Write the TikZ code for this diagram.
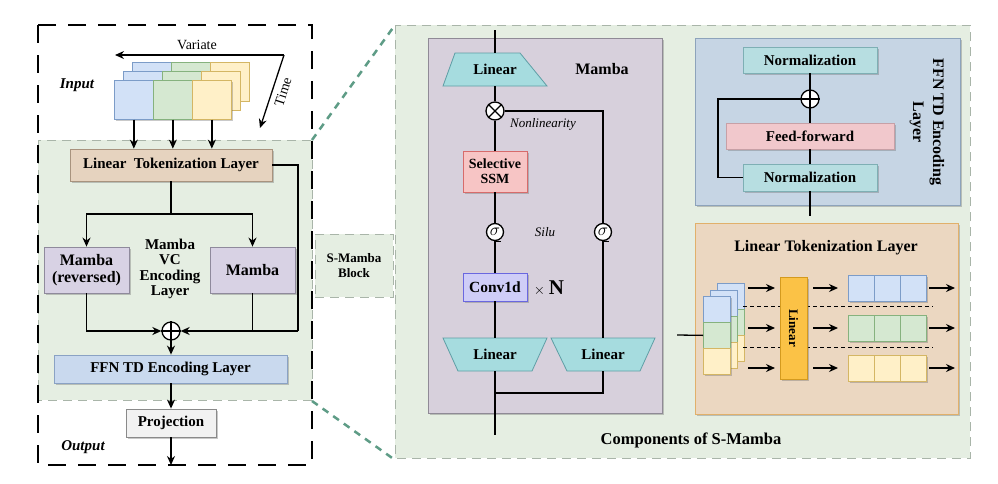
\documentclass[tikz,border=0pt]{standalone}
\usepackage{fontspec}
\setmainfont{Liberation Serif}
\usetikzlibrary{shadows,arrows.meta,calc}
\definecolor{lgreen}{HTML}{E5EEE2}
\definecolor{regdraw}{HTML}{A9B5A9}
\definecolor{ltlfill}{HTML}{E6D3BF}
\definecolor{ltldraw}{HTML}{A8937E}
\definecolor{mfill}{HTML}{D8D2E4}
\definecolor{mdraw}{HTML}{8F8A9C}
\definecolor{ffnfill}{HTML}{C9D9EE}
\definecolor{ffndraw}{HTML}{8AA2C4}
\definecolor{projfill}{HTML}{F2F2F2}
\definecolor{projdraw}{HTML}{8A8A8A}
\definecolor{mpfill}{HTML}{D7D0DC}
\definecolor{mpdraw}{HTML}{8F8A96}
\definecolor{linfill}{HTML}{A6DCDF}
\definecolor{lindraw}{HTML}{5F9EA5}
\definecolor{ssmfill}{HTML}{F7C5C5}
\definecolor{ssmdraw}{HTML}{D76B6B}
\definecolor{convfill}{HTML}{CFCDF7}
\definecolor{convdraw}{HTML}{6A67E0}
\definecolor{fpfill}{HTML}{C6D5E4}
\definecolor{fpdraw}{HTML}{8DA3BB}
\definecolor{normfill}{HTML}{B7DEE1}
\definecolor{normdraw}{HTML}{7EAFB4}
\definecolor{fffill}{HTML}{F1C8CC}
\definecolor{ffdraw}{HTML}{C7A0A6}
\definecolor{lpfill}{HTML}{EBD7C1}
\definecolor{lpdraw}{HTML}{E1B06B}
\definecolor{cb}{HTML}{D2E1F7}
\definecolor{cbd}{HTML}{7C9CC8}
\definecolor{cg}{HTML}{D5E8D1}
\definecolor{cgd}{HTML}{86B27E}
\definecolor{cy}{HTML}{FFF0C8}
\definecolor{cyd}{HTML}{D4B664}
\definecolor{orfill}{HTML}{FBC246}
\definecolor{ordraw}{HTML}{D49A1E}
\definecolor{teal}{HTML}{5E9C86}
\tikzset{
  shd/.style={drop shadow={shadow xshift=2pt,shadow yshift=-2pt,opacity=0.35,fill=black!60}},
  bx/.style={draw, line width=0.8pt, shd, inner sep=0pt, align=center,
    font=\fontsize{15}{17}\selectfont\bfseries},
  ln/.style={line width=1.3pt},
  arr/.style={line width=1.3pt, -{Stealth[length=9pt,width=8pt]}},
  cell/.style={draw, line width=0.7pt, minimum width=39pt, minimum height=39pt, inner sep=0pt, anchor=north west},
  tok/.style={draw, line width=0.7pt, minimum width=26pt, minimum height=26pt, inner sep=0pt, shd},
  scell/.style={draw, line width=0.7pt, minimum width=27pt, minimum height=26pt, inner sep=0pt, anchor=north west},
  region/.style={fill=lgreen, draw=regdraw, line width=0.9pt, dash pattern=on 9pt off 6pt},
  lbl/.style={font=\fontsize{15}{17}\selectfont\bfseries, align=center, inner sep=0pt},
  circ/.style={circle, draw, fill=white, line width=1.3pt, minimum size=18pt, inner sep=0pt},
  sig/.style={circle, draw, fill=white, line width=1.3pt, minimum size=17pt, inner sep=0pt},
}
\begin{document}
\begin{tikzpicture}[x=1pt,y=-1pt]
\useasboundingbox (0,0) rectangle (998,483);
\fill[white] (0,0) rectangle (998,483);

% ---------- regions ----------
\path[region] (38,140) rectangle (312,400);
\path[region] (395,25) rectangle (970,458);
\node[region, minimum width=78pt, minimum height=63pt, inner sep=0pt, align=center,
  font=\fontsize{13}{15}\selectfont\bfseries] (smb) at (354,265.5) {S-Mamba\\Block};
\draw[black, line width=2.5pt, dash pattern=on 18pt off 12pt] (38,25) rectangle (312,465);
\coordinate (z1) at (312,140);
\coordinate (z2) at (395,25);
\coordinate (z3) at (312,401);
\coordinate (z4) at (395,460);
\draw[teal, line width=2.5pt, dash pattern=on 7pt off 6pt] (z1) -- (z2);
\draw[teal, line width=2.5pt, dash pattern=on 7pt off 6pt] (z3) -- (z4);

% ---------- input cubes ----------
\node[font=\fontsize{15}{17}\selectfont\bfseries\itshape] (inp) at (77,85) {Input};
\foreach \l in {2,1} {
  \node[cell, fill=cb, draw=cbd] (L\l a) at ({114+9*\l},{80-9*\l}) {};
  \node[cell, fill=cg, draw=cgd] (L\l b) at ({153+9*\l},{80-9*\l}) {};
  \node[cell, fill=cy, draw=cyd] (L\l c) at ({192+9*\l},{80-9*\l}) {};
}
\node[cell, fill=cb, draw=cbd, shd] (f0) at (114,80) {};
\node[cell, fill=cg, draw=cgd, shd] (f1) at (153,80) {};
\node[cell, fill=cy, draw=cyd, shd] (f2) at (192,80) {};
\coordinate (vt) at (284,55);
\coordinate (vl) at (115,55);
\coordinate (tb) at (260,128);
\draw[arr] (vt) -- (vl);
\draw[arr] (vt) -- (tb);
\node[font=\fontsize{14}{16}\selectfont] (var) at (197,45) {Variate};
\node[font=\fontsize{14}{16}\selectfont, rotate=72, inner sep=0pt] (tim) at (283,92) {Time};

% ---------- left pipeline ----------
\node[bx, fill=ltlfill, draw=ltldraw, minimum width=202pt, minimum height=32pt] (ltl) at (171,165) {Linear~~Tokenization Layer};
\foreach \c in {f0,f1,f2} \draw[arr] (\c.south) -- (\c.south |- ltl.north);
\node[bx, fill=mfill, draw=mdraw, minimum width=85pt, minimum height=46pt,
  font=\fontsize{16}{17}\selectfont\bfseries] (mrev) at (86.5,270) {Mamba\\(reversed)};
\node[bx, fill=mfill, draw=mdraw, minimum width=85pt, minimum height=46pt,
  font=\fontsize{16}{17}\selectfont\bfseries] (mam) at (252.5,270) {Mamba};
\node[lbl, font=\fontsize{15}{15.5}\selectfont\bfseries] (vcl) at (170,269) {Mamba\\VC\\Encoding\\Layer};
\coordinate (split) at (171,214);
\draw[ln] (ltl.south) -- (split);
\draw[arr] (split) -| (mrev.north);
\draw[arr] (split) -| (mam.north);
\node[circ] (pl) at (171,331) {};
\draw[line width=1.1pt] (pl.north) -- (pl.south) (pl.east) -- (pl.west);
\coordinate (rc) at (298,331);
\draw[ln] (ltl.east) -| (rc);
\draw[arr] (rc) -- (pl.east);
\draw[ln] (mam.south) -- (mam.south |- rc);
\draw[arr] (mrev.south) |- (pl.west);
\node[bx, fill=ffnfill, draw=ffndraw, minimum width=233pt, minimum height=28pt] (ffn) at (170.5,369) {FFN TD Encoding Layer};
\draw[arr] (pl.south) -- (pl.south |- ffn.north);
\node[bx, fill=projfill, draw=projdraw, minimum width=90pt, minimum height=28pt] (proj) at (171,423) {Projection};
\draw[arr] (ffn.south -| proj.north) -- (proj.north);
\coordinate (outb) at (171,465);
\draw[arr] (proj.south) -- (outb);
\node[font=\fontsize{15}{17}\selectfont\bfseries\itshape] (outl) at (83,447) {Output};

% ---------- Mamba panel ----------
\node[draw=mpdraw, fill=mpfill, line width=0.8pt, shd, minimum width=234pt, minimum height=375pt, inner sep=0pt] (mp) at (545,225.5) {};
\node[font=\fontsize{16}{18}\selectfont\bfseries] (mtl) at (602,69) {Mamba};
\filldraw[fill=linfill, draw=lindraw, line width=0.8pt] (455,53) -- (520,53) -- (547,86) -- (443,86) -- cycle;
\node[lbl, minimum width=104pt, minimum height=33pt] (tl) at (495,69.5) {Linear};
\coordinate (mtop) at (495,30);
\draw[ln] (mtop) -- (tl.north);
\node[circ] (ot) at (495,111) {};
\draw[line width=1.1pt] (ot.45) -- (ot.225) (ot.135) -- (ot.315);
\draw[ln] (tl.south) -- (ot.north);
\node[font=\fontsize{13}{15}\selectfont\itshape] (nonl) at (543,124) {Nonlinearity};
\node[bx, fill=ssmfill, draw=ssmdraw, minimum width=64pt, minimum height=41pt,
  font=\fontsize{14}{15}\selectfont\bfseries] (ssm) at (495,171.5) {Selective\\SSM};
\draw[ln] (ot.south) -- (ssm.north);
\node[sig] (s1) at (495,232) {\fontsize{16}{16}\selectfont$\sigma$};
\node[sig] (s2) at (603,232) {\fontsize{16}{16}\selectfont$\sigma$};
\draw[line width=1pt] (s1.south) -- ++(6,0);
\draw[line width=1pt] (s2.south) -- ++(6,0);
\node[font=\fontsize{13}{15}\selectfont\itshape] (silu) at (545,232) {Silu};
\draw[ln] (ssm.south) -- (s1.north);
\draw[ln] (ot.east) -| (s2.north);
\node[bx, fill=convfill, draw=convdraw, minimum width=64pt, minimum height=28pt,
  font=\fontsize{15.5}{17}\selectfont\bfseries] (conv) at (495,287) {Conv1d};
\node[font=\fontsize{15}{17}\selectfont] (xn) at (549,288) {$\times$ {\fontsize{21}{21}\selectfont\bfseries N}};
\draw[ln] (s1.south) -- (conv.north);
\filldraw[fill=linfill, draw=lindraw, line width=0.8pt] (443,338) -- (547,338) -- (532,371) -- (458,371) -- cycle;
\node[lbl, minimum width=104pt, minimum height=33pt] (bl1) at (495,354.5) {Linear};
\filldraw[fill=linfill, draw=lindraw, line width=0.8pt] (551,338) -- (655,338) -- (640,371) -- (567,371) -- cycle;
\node[lbl, minimum width=104pt, minimum height=33pt] (bl2) at (603,354.5) {Linear};
\draw[ln] (conv.south) -- (bl1.north);
\draw[ln] (s2.south) -- (bl2.north);
\coordinate (mbot) at (495,435);
\coordinate (mj) at (495,393);
\draw[ln] (bl1.south) -- (mbot);
\draw[ln] (bl2.south) |- (mj);
\node[font=\fontsize{16.5}{18}\selectfont\bfseries] (comp) at (691,440) {Components of S-Mamba};

% ---------- FFN TD panel ----------
\node[draw=fpdraw, fill=fpfill, line width=0.8pt, shd, minimum width=265pt, minimum height=167pt, inner sep=0pt] (fp) at (827.5,121.5) {};
\node[bx, fill=normfill, draw=normdraw, minimum width=134pt, minimum height=26pt] (nt) at (810,60) {Normalization};
\node[circ] (p2) at (810,99) {};
\draw[line width=1.1pt] (p2.north) -- (p2.south) (p2.east) -- (p2.west);
\node[bx, fill=fffill, draw=ffdraw, minimum width=168pt, minimum height=26pt] (ff) at (810,136) {Feed-forward};
\node[bx, fill=normfill, draw=normdraw, minimum width=134pt, minimum height=27pt] (nb) at (810,177.5) {Normalization};
\draw[ln] (nt.south) -- (p2.north);
\draw[ln] (p2.south) -- (ff.north);
\draw[ln] (ff.south) -- (nb.north);
\coordinate (fbot) at (810,216);
\draw[ln] (nb.south) -- (fbot);
\coordinate (byp) at (718,177.5);
\draw[ln] (nb.west) -- (byp) |- (p2.west);
\node[font=\fontsize{16}{20}\selectfont\bfseries, align=center, rotate=-90] (fttl) at (927,122) {FFN TD Encoding\\Layer};

% ---------- Linear Tokenization panel ----------
\node[draw=lpdraw, fill=lpfill, line width=1pt, shd, minimum width=263pt, minimum height=191pt, inner sep=0pt] (lp) at (826.5,318.5) {};
\node[font=\fontsize{16}{18}\selectfont\bfseries] (lpt) at (826,248) {Linear Tokenization Layer};
\foreach \l in {2,1} {
  \node[scell, fill=cb, draw=cbd] (S\l a) at ({703+7*\l},{296-6.5*\l}) {};
  \node[scell, fill=cg, draw=cgd] (S\l b) at ({703+7*\l},{322-6.5*\l}) {};
  \node[scell, fill=cy, draw=cyd] (S\l c) at ({703+7*\l},{348-6.5*\l}) {};
}
\node[scell, fill=cb, draw=cbd, shd] (sa) at (703,296) {};
\node[scell, fill=cg, draw=cgd, shd] (sb) at (703,322) {};
\node[scell, fill=cy, draw=cyd, shd] (sc) at (703,348) {};
\coordinate (lin) at (677,335);
\draw[ln] (lin) -- (sb.west);
\draw[line width=0.9pt, dash pattern=on 4pt off 3pt] (743,306) -- (933,306);
\draw[line width=0.9pt, dash pattern=on 4pt off 3pt] (743,347) -- (933,347);
\node[draw=ordraw, fill=orfill, line width=0.8pt, shd, minimum width=27pt, minimum height=102pt, inner sep=0pt] (ob) at (793.5,328) {};
\node[font=\fontsize{13}{15}\selectfont\bfseries, rotate=-90] (obt) at (ob.center) {Linear};
\foreach \r/\y/\f/\d in {1/288/cb/cbd, 2/328/cg/cgd, 3/368/cy/cyd} {
  \node[tok, fill=\f, draw=\d] (t\r a) at (861,\y) {};
  \node[tok, fill=\f, draw=\d] (t\r b) at (887,\y) {};
  \node[tok, fill=\f, draw=\d] (t\r c) at (913,\y) {};
  \coordinate (ia\r) at (748,\y);
  \coordinate (ie\r) at (775,\y);
  \coordinate (ib\r) at (813,\y);
  \coordinate (ic\r) at (838,\y);
  \coordinate (id\r) at (955,\y);
  \draw[arr] (ia\r) -- (ie\r);
  \draw[arr] (ib\r) -- (ic\r);
  \draw[arr] ($(t\r c.east)+(3,0)$) -- (id\r);
}
\end{tikzpicture}
\end{document}
